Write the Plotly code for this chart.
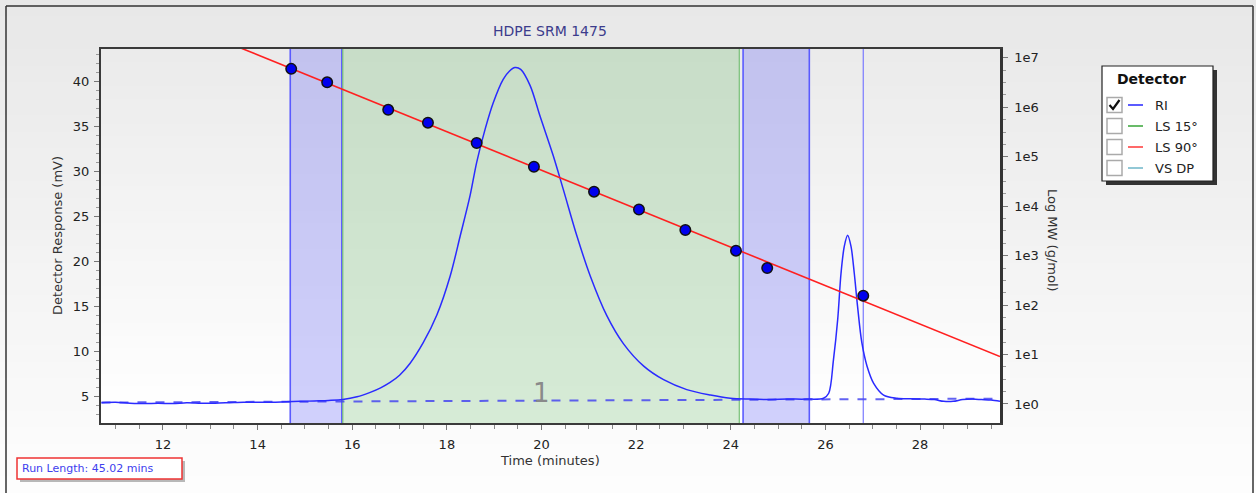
import plotly.graph_objects as go

# ---------------- data ----------------
ri_time = [10.7, 11.0, 11.3, 11.6, 11.9, 12.2, 12.5, 12.8, 13.1, 13.4, 13.7, 14.0, 14.3, 14.6,
           14.9, 15.2, 15.5, 15.8, 16.1, 16.38, 16.6, 16.8, 17.0, 17.22, 17.5, 17.79, 18.07,
           18.28, 18.49, 18.63, 18.81, 18.98, 19.19, 19.32, 19.44, 19.56, 19.76, 19.97, 20.25,
           20.46, 20.75, 21.03, 21.38, 21.73, 22.16, 22.58, 23.07, 23.57, 23.99, 24.4, 24.8,
           25.2, 25.6, 25.96, 26.07, 26.17, 26.26, 26.33, 26.40, 26.47, 26.54, 26.61, 26.68,
           26.77, 26.88, 27.02, 27.23, 27.51, 27.79, 28.1, 28.3, 28.5, 28.7, 28.9, 29.1, 29.3,
           29.5, 29.69]
ri_mv = [4.35, 4.4, 4.3, 4.25, 4.3, 4.25, 4.35, 4.3, 4.3, 4.35, 4.4, 4.4, 4.4, 4.45,
         4.5, 4.55, 4.6, 4.7, 5.0, 5.5, 6.0, 6.6, 7.4, 8.7, 11.0, 14.1, 18.4,
         22.8, 27.3, 31.0, 34.7, 37.6, 40.2, 41.1, 41.5, 41.3, 39.5, 36.1, 31.7,
         28.0, 22.8, 18.4, 14.0, 10.9, 8.4, 6.9, 5.8, 5.2, 4.85, 4.75, 4.7,
         4.75, 4.75, 4.85, 5.4, 9.1, 13.6, 18.7, 21.7, 22.9, 21.7, 18.7, 15.0,
         11.0, 8.4, 6.5, 5.2, 4.85, 4.78, 4.75, 4.7, 4.5, 4.5, 4.7, 4.75, 4.7,
         4.65, 4.5]

baseline_time = [10.7, 29.69]
baseline_mv = [4.37, 4.8]

cal_time = [14.71, 15.47, 16.76, 17.60, 18.63, 19.84, 21.11, 22.06, 23.04, 24.11, 24.77, 26.80]
cal_mw = [6.0e6, 3.2e6, 8.9e5, 4.9e5, 1.9e5, 6.3e4, 1.97e4, 8.6e3, 3.3e3, 1.26e3, 5.6e2, 1.55e2]

fit_time = [13.0, 29.69]
fit_mw = [2.82e7, 9.1]

region_starts = [14.69, 15.80, 24.26]
region_ends = [15.78, 24.18, 25.66]
region_kinds = ["blue", "green", "blue"]
marker_time = 26.80

peak_label = "1"
peak_label_time = 20.0
peak_label_mv = 5.4

x_ticks = [12, 14, 16, 18, 20, 22, 24, 26, 28]
y_ticks = [5, 10, 15, 20, 25, 30, 35, 40]
mw_ticks = [1, 10, 100, 1e3, 1e4, 1e5, 1e6, 1e7]
mw_tick_text = ["1e0", "1e1", "1e2", "1e3", "1e4", "1e5", "1e6", "1e7"]

detector_names = ["RI", "LS 15°", "LS 90°", "VS DP"]
detector_colors = ["#3333ff", "#44aa44", "#ff4444", "#77bbcc"]
detector_checked = [True, False, False, False]

title_text = "HDPE SRM 1475"
run_length_text = "Run Length: 45.02 mins"

# ---------------- geometry helpers ----------------
W, H = 1256, 493
L, R, T, B = 101, 1000, 49, 423
FONT = "DejaVu Sans"


def xp(px):
    return (px - L) / (R - L)


def yp(py):
    return (B - py) / (B - T)


shapes = []
annotations = []


def rect_px(x0, y0, x1, y1, fill, line_color=None, lw=0, layer="below"):
    shapes.append(dict(type="rect", xref="paper", yref="paper",
                       x0=xp(x0), x1=xp(x1), y0=yp(y1), y1=yp(y0),
                       fillcolor=fill, layer=layer,
                       line=dict(width=lw, color=line_color or fill)))


def line_px(x0, y0, x1, y1, color, lw=1, layer="above"):
    shapes.append(dict(type="line", xref="paper", yref="paper",
                       x0=xp(x0), x1=xp(x1), y0=yp(y0), y1=yp(y1),
                       layer=layer, line=dict(color=color, width=lw)))


def text_px(x, y, s, size=13, color="#222", xanchor="center", bold=False, angle=0):
    annotations.append(dict(xref="paper", yref="paper", x=xp(x), y=yp(y), text=("<b>%s</b>" % s) if bold else s,
                            showarrow=False, xanchor=xanchor, yanchor="middle", textangle=angle,
                            font=dict(family=FONT, size=size, color=color)))


# paper gradient
N = 30
for i in range(N):
    f = i / (N - 1)
    c = int(round(232 + (253 - 232) * f))
    y0 = i * H / N
    y1 = (i + 1) * H / N + 1
    rect_px(-1, y0, W + 1, y1, "rgb(%d,%d,%d)" % (c, c, c))

# plot area gradient
for i in range(N):
    f = i / (N - 1)
    c = int(round(235 + (255 - 235) * f))
    y0 = T + i * (B - T) / N
    y1 = T + (i + 1) * (B - T) / N + 1
    rect_px(L, y0, R, min(y1, B), "rgb(%d,%d,%d)" % (c, c, c))

# integration / slice regions
for s, e, k in zip(region_starts, region_ends, region_kinds):
    if k == "blue":
        fill, edge, ew = "rgba(100,100,245,0.30)", "#5a5aff", 1.6
    else:
        fill, edge, ew = "rgba(120,190,120,0.30)", "#77c077", 1.2
    shapes.append(dict(type="rect", xref="x", yref="y domain", x0=s, x1=e, y0=0, y1=1,
                       fillcolor=fill, line=dict(width=0), layer="below"))
    for xv in (s, e):
        shapes.append(dict(type="line", xref="x", yref="y domain", x0=xv, x1=xv, y0=0, y1=1,
                           line=dict(color=edge, width=ew), layer="below"))
shapes.append(dict(type="line", xref="x", yref="y domain", x0=marker_time, x1=marker_time, y0=0, y1=1,
                   line=dict(color="#7a7aff", width=1.2), layer="below"))

# outer frame
line_px(6, 6, 1253, 6, "#333", 1.5)
line_px(6, 6, 6, H + 2, "#333", 1.5)
line_px(1253, 6, 1253, H + 2, "#333", 1.5)

# legend box
rect_px(1106, 70, 1217, 185, "#333", layer="above")
rect_px(1102, 66, 1213, 181, "white", "#222", 1.2, layer="above")
text_px(1151, 79, "Detector", size=14, color="#111", bold=True)
row_y = [105, 126, 147, 168]
for yy, name, col, chk in zip(row_y, detector_names, detector_colors, detector_checked):
    rect_px(1107, yy - 7.5, 1122, yy + 7.5, "white", "#aaaaaa", 1.5, layer="above")
    line_px(1128, yy, 1143, yy, col, 1.6)
    text_px(1153, yy, name, size=13, color="#222", xanchor="left")
    if chk:
        path = "M %f,%f L %f,%f L %f,%f" % (xp(1109.5), yp(yy), xp(1113), yp(yy + 4), xp(1119.5), yp(yy - 5))
        shapes.append(dict(type="path", xref="paper", yref="paper", path=path,
                           line=dict(color="#111", width=2.2), layer="above"))

# run length box
rect_px(20, 461, 185, 482, "#b8b8b8", layer="above")
rect_px(17, 458, 182, 479, "white", "#ee3333", 1.5, layer="above")
text_px(20, 468.5, run_length_text, size=11, color="#4040ee", xanchor="left")

# titles
text_px(550, 31, title_text, size=14, color="#3c3c8c")
text_px(550, 460, "Time (minutes)", size=13, color="#333")
text_px(57, 236, "Detector Response (mV)", size=13, color="#333", angle=-90)
text_px(1053, 240, "Log MW (g/mol)", size=13, color="#333", angle=90)

# peak label
annotations.append(dict(xref="x", yref="y", x=peak_label_time, y=peak_label_mv, text=peak_label,
                        showarrow=False, font=dict(family=FONT, size=26, color="#8a8a8a")))

# ---------------- traces ----------------
fig = go.Figure()
fig.add_trace(go.Scatter(x=baseline_time, y=baseline_mv, mode="lines",
                         line=dict(color="rgba(70,70,240,0.85)", width=2, dash="dash"),
                         hoverinfo="skip"))
fig.add_trace(go.Scatter(x=ri_time, y=ri_mv, mode="lines", name="RI",
                         line=dict(color="#2a2aff", width=1.5, shape="spline", smoothing=0.9)))
fig.add_trace(go.Scatter(x=fit_time, y=fit_mw, mode="lines", yaxis="y2",
                         line=dict(color="#ff2020", width=1.6)))
fig.add_trace(go.Scatter(x=cal_time, y=cal_mw, mode="markers", yaxis="y2",
                         marker=dict(size=10.5, color="#0000ee", line=dict(color="#111", width=1.5))))

log_minor = []
for d in range(0, 8):
    for q in (0.25, 0.5, 0.75):
        log_minor.append(10 ** (d - 1 + q) if d > 0 else None)
log_minor = [v for v in log_minor if v is not None]

axis_font = dict(family=FONT, size=13, color="#222")
fig.update_layout(
    width=W, height=H,
    margin=dict(l=L, r=W - R, t=T, b=H - B, pad=0),
    paper_bgcolor="#f2f2f2", plot_bgcolor="rgba(0,0,0,0)",
    showlegend=False,
    shapes=shapes, annotations=annotations,
    xaxis=dict(range=[10.69, 29.69], showgrid=False, zeroline=False,
               tickvals=x_ticks, ticks="outside", ticklen=5, tickcolor="#777", tickwidth=1,
               minor=dict(dtick=0.5, tick0=0, ticks="outside", ticklen=4, tickcolor="#888", showgrid=False),
               showline=True, linecolor="#3a3a3a", linewidth=2, mirror=True,
               tickfont=axis_font, ticklabelstandoff=3),
    yaxis=dict(range=[2.1, 43.56], showgrid=False, zeroline=False,
               tickvals=y_ticks, ticks="outside", ticklen=5, tickcolor="#777",
               minor=dict(dtick=1, tick0=0, ticks="outside", ticklen=3, tickcolor="#999", showgrid=False),
               showline=True, linecolor="#3a3a3a", linewidth=2,
               tickfont=axis_font, ticklabelstandoff=2),
    yaxis2=dict(type="log", range=[-0.385, 7.18], overlaying="y", side="right",
                showgrid=False, zeroline=False,
                tickvals=mw_ticks, ticktext=mw_tick_text, ticks="outside", ticklen=5, tickcolor="#777",
                minor=dict(tickvals=log_minor, ticks="outside", ticklen=3, tickcolor="#999", showgrid=False),
                showline=True, linecolor="#333", linewidth=2.5,
                tickfont=axis_font, ticklabelstandoff=4),
)

fig.write_html("out.html", config={"displayModeBar": False},
               post_script="document.body.style.margin='0px';document.body.style.overflow='hidden';")
